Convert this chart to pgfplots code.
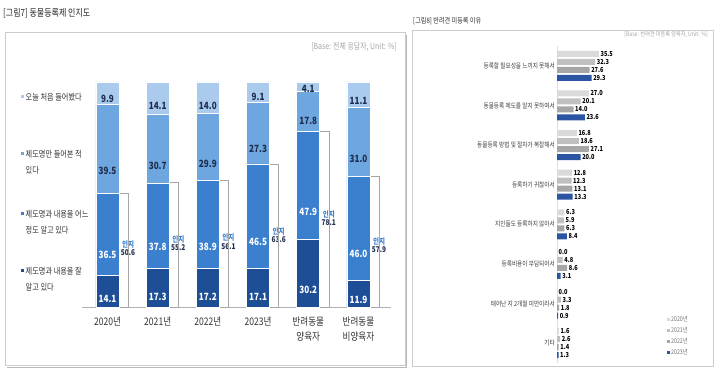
\documentclass[border=0pt]{standalone}
\usepackage{pgfplots}
\pgfplotsset{compat=1.18}
\usepackage{fontspec}
\setmainfont{Noto Sans CJK KR}[FakeStretch=0.82]
\definecolor{c1}{HTML}{1D4E96}
\definecolor{c2}{HTML}{3A80CF}
\definecolor{c3}{HTML}{6EA6DF}
\definecolor{c4}{HTML}{AACBEE}
\definecolor{g1}{HTML}{DADADA}
\definecolor{g2}{HTML}{C0C0C0}
\definecolor{g3}{HTML}{A6A6A6}
\definecolor{b4}{HTML}{2B55A3}
\definecolor{navy}{HTML}{1F2D4D}
\definecolor{framec}{HTML}{CCCCCC}
\newcommand{\fs}[2]{\fontsize{#1}{#2}\selectfont}
\begin{document}
\begin{tikzpicture}
\useasboundingbox (0,0) rectangle (720bp,370bp);
\fill[white] (0,0) rectangle (720bp,370bp);
% frames
\draw[gray!55, line width=1.4bp] (7bp,2.6bp) -- (406.5bp,2.6bp) -- (406.5bp,335bp);
\draw[framec, line width=1bp] (5bp,4bp) rectangle (405bp,337bp);
\draw[framec, line width=0.8bp] (412bp,4bp) rectangle (713bp,340bp);
% titles
\node[anchor=west, inner sep=0, font=\fs{9.8}{12}, text=black!85] at (3bp,357bp) {[그림7] 동물등록제 인지도};
\node[anchor=east, inner sep=0, font=\fs{8.5}{10}, text=black!35] at (397bp,323bp) {[Base: 전체 응답자, Unit: \%]};
\node[anchor=west, inner sep=0, font=\fs{7.5}{9}, text=black!80] at (413bp,349bp) {[그림8] 반려견 미등록 이유};
\node[anchor=east, inner sep=0, font=\fs{6.3}{8}, text=black!35] at (708bp,335bp) {[Base: 반려견 미등록 양육자, Unit: \%]};
% left legend
\fill[c4] (21bp,271.5bp) rectangle (24bp,274.5bp);
\node[anchor=west, inner sep=0, font=\fs{8.8}{16}, text=black!80] at (25.5bp,273bp) {오늘 처음 들어봤다};
\fill[c3] (21bp,214.5bp) rectangle (24bp,217.5bp);
\node[anchor=west, align=left, inner sep=0, font=\fs{8.8}{16}, text=black!80] at (25.5bp,208bp) {제도명만 들어본 적\\있다};
\fill[c2] (21bp,154.5bp) rectangle (24bp,157.5bp);
\node[anchor=west, align=left, inner sep=0, font=\fs{8.8}{16}, text=black!80] at (25.5bp,148bp) {제도명과 내용을 어느\\정도 알고 있다};
\fill[c1] (21bp,97.5bp) rectangle (24bp,100.5bp);
\node[anchor=west, align=left, inner sep=0, font=\fs{8.8}{16}, text=black!80] at (25.5bp,91bp) {제도명과 내용을 잘\\알고 있다};
% left chart
\begin{axis}[
  at={(82.4bp,63bp)}, anchor=south west,
  scale only axis, width=308.7bp, height=225bp,
  xmin=-0.5, xmax=5.65, ymin=0, ymax=100,
  ybar stacked, bar width=23bp,
  axis x line*=bottom, axis y line=none,
  x axis line style={-, draw=gray!60, line width=0.8bp},
  xtick={0,...,5},
  xticklabels={2020년,2021년,2022년,2023년,반려동물\\양육자,반려동물\\비양육자},
  major tick length=0,
  xticklabel style={align=center, font=\fs{10.5}{15}, text=black!80, yshift=-6bp},
  clip=false,
  /pgf/number format/assume math mode=true,
  visualization depends on=rawy\as\rawy,
  nodes near coords={\pgfmathprintnumber[fixed,fixed zerofill,precision=1]{\rawy}},
  every node near coord/.append style={anchor=center, font=\bfseries\fs{10}{12}, shift={(axis direction cs:0,-\rawy/4)}},
]
\addplot[fill=c1, draw=white, line width=0.6bp, every node near coord/.append style={text=white}] coordinates {(0,14.1)(1,17.3)(2,17.2)(3,17.1)(4,30.2)(5,11.9)};
\addplot[fill=c2, draw=white, line width=0.6bp, every node near coord/.append style={text=white}] coordinates {(0,36.5)(1,37.8)(2,38.9)(3,46.5)(4,47.9)(5,46.0)};
\addplot[fill=c3, draw=white, line width=0.6bp, every node near coord/.append style={text=navy}] coordinates {(0,39.5)(1,30.7)(2,29.9)(3,27.3)(4,17.8)(5,31.0)};
\addplot[fill=c4, draw=white, line width=0.6bp, every node near coord/.append style={text=navy}] coordinates {(0,9.9)(1,14.1)(2,14.0)(3,9.1)(4,4.1)(5,11.1)};
% recognition brackets
\draw[gray!70, line width=0.6bp] (axis cs:0.229,0) rectangle (axis cs:0.41,50.6);
\draw[gray!70, line width=0.6bp] (axis cs:1.229,0) rectangle (axis cs:1.41,55.2);
\draw[gray!70, line width=0.6bp] (axis cs:2.229,0) rectangle (axis cs:2.41,56.1);
\draw[gray!70, line width=0.6bp] (axis cs:3.229,0) rectangle (axis cs:3.41,63.6);
\draw[gray!70, line width=0.6bp] (axis cs:4.229,0) rectangle (axis cs:4.41,78.1);
\draw[gray!70, line width=0.6bp] (axis cs:5.229,0) rectangle (axis cs:5.41,57.9);
\tikzset{inji/.style={fill=white, inner sep=1bp, align=center, font=\bfseries\fs{8}{8.5}, text=navy}}
\node[inji] at (axis cs:0.41,26.2) {\textcolor{c2}{인지}\\50.6};
\node[inji] at (axis cs:1.41,28.4) {\textcolor{c2}{인지}\\55.2};
\node[inji] at (axis cs:2.41,29.0) {\textcolor{c2}{인지}\\56.1};
\node[inji] at (axis cs:3.41,32.0) {\textcolor{c2}{인지}\\63.6};
\node[inji] at (axis cs:4.41,39.5) {\textcolor{c2}{인지}\\78.1};
\node[inji] at (axis cs:5.41,27.5) {\textcolor{c2}{인지}\\57.9};
\end{axis}
% right chart
\begin{axis}[
  at={(557bp,7bp)}, anchor=south west,
  scale only axis, width=118bp, height=317bp,
  xmin=0, xmax=100, ymin=-0.5, ymax=7.5,
  xbar, bar width=6bp,
  axis y line*=left, axis x line=none,
  y axis line style={-, draw=gray!25, line width=0.6bp},
  ytick={0,...,7},
  yticklabels={기타,태어난 지 2개월 미만이라서,등록비용이 부담되어서,지인들도 등록하지 않아서,등록하기 귀찮아서,동물등록 방법 및 절차가 복잡해서,동물등록 제도를 알지 못하여서,등록할 필요성을 느끼지 못해서},
  major tick length=0,
  yticklabel style={font=\fs{6.9}{8}, text=black!75, inner sep=2bp},
  clip=false,
  /pgf/number format/assume math mode=true,
  point meta=x,
  nodes near coords={\pgfmathprintnumber[fixed,fixed zerofill,precision=1]{\pgfplotspointmeta}},
  nodes near coords align={horizontal},
  every node near coord/.append style={anchor=west, font=\bfseries\fs{6.9}{8}, text=black, inner sep=1.5bp},
  legend image code/.code={\fill[#1] (0bp,-1.6bp) rectangle (3.2bp,1.6bp);},
  legend style={at={(rel axis cs:0.93,0.152)}, anchor=north west, draw=none, fill=none,
    font=\fs{6.5}{7}, text=black!55, row sep=2.3bp, inner sep=0pt, nodes={inner sep=1bp}},
  legend cell align=left,
]
\addplot[fill=g1, draw=none, bar shift=12bp] coordinates {(35.5,7)(27.0,6)(16.8,5)(12.8,4)(6.3,3)(0.0,2)(0.0,1)(1.6,0)};
\addplot[fill=g2, draw=none, bar shift=4bp] coordinates {(32.3,7)(20.1,6)(18.6,5)(12.3,4)(5.9,3)(4.8,2)(3.3,1)(2.6,0)};
\addplot[fill=g3, draw=none, bar shift=-4bp] coordinates {(27.6,7)(14.0,6)(27.1,5)(13.1,4)(6.3,3)(8.6,2)(1.8,1)(1.4,0)};
\addplot[fill=b4, draw=none, bar shift=-12bp] coordinates {(29.3,7)(23.6,6)(20.0,5)(13.3,4)(8.4,3)(3.1,2)(0.9,1)(1.3,0)};
\legend{2020년,2021년,2022년,2023년}
\end{axis}
\end{tikzpicture}
\end{document}
